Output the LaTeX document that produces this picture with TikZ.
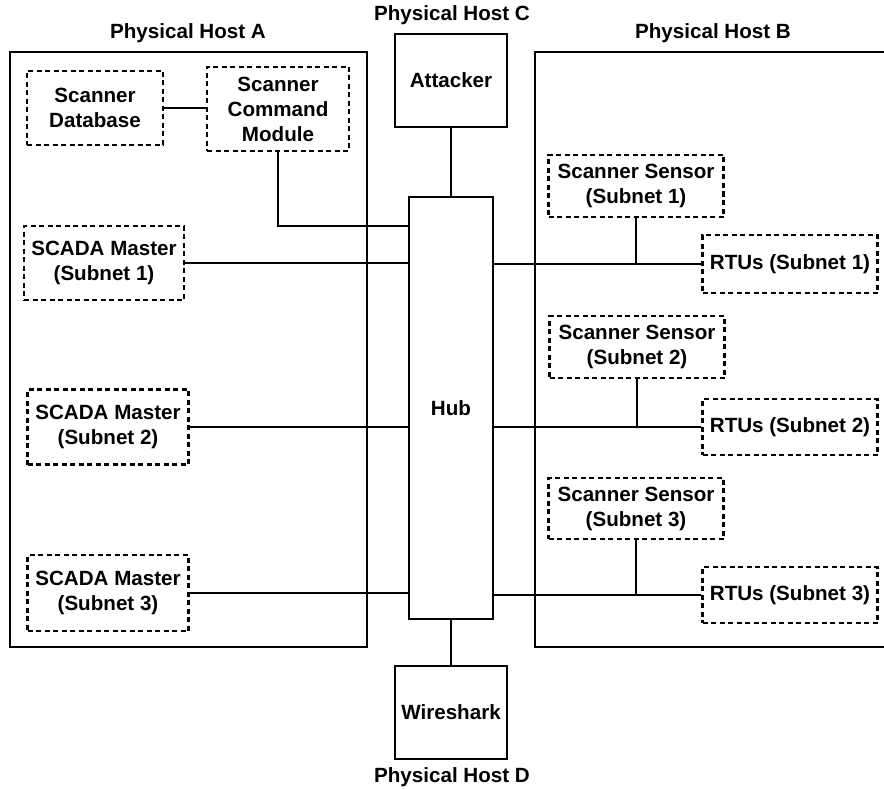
\documentclass[tikz,border=0pt]{standalone}
\usepackage{fontspec}
\setmainfont{Liberation Sans}
\begin{document}
\begin{tikzpicture}[x=1pt,y=-1pt,
  every node/.style={font=\fontsize{20.6}{25}\selectfont\bfseries,inner sep=0pt},
  host/.style={draw,line width=2.8pt},
  solo/.style={draw,line width=2.6pt},
  comp/.style={draw,line width=2.2pt,dash pattern=on 5pt off 3.5pt,align=center},
  link/.style={line width=2.2pt}]
\useasboundingbox (0,0) rectangle (884,789);
\clip (0,0) rectangle (884,789);
% physical hosts
\draw[host] (10,52) rectangle (367,647);
\draw[host] (535,52) rectangle (900,647);
\node (hostA) at (188,33) {Physical Host A};
\node (hostB) at (713,33) {Physical Host B};
\node (hostC) at (452,15) {Physical Host C};
\node (hostD) at (452,777) {Physical Host D};
% host A
\node[comp,minimum width=136,minimum height=74] (db) at (95,108) {Scanner\\Database};
\node[comp,minimum width=142,minimum height=84] (scm) at (278,109) {Scanner\\Command\\Module};
\node[comp,minimum width=160,minimum height=74] (m1) at (104,263) {SCADA Master\\(Subnet 1)};
\node[comp,minimum width=161,minimum height=75] (m2) at (108,427) {SCADA Master\\(Subnet 2)};
\node[comp,minimum width=161,minimum height=76] (m3) at (108,593) {SCADA Master\\(Subnet 3)};
% middle
\node[solo,minimum width=112,minimum height=93] (att) at (451,80.5) {Attacker};
\node[solo,minimum width=84,minimum height=422] (hub) at (451,408) {Hub};
\node[solo,minimum width=112,minimum height=93] (ws) at (451,712.5) {Wireshark};
% host B
\node[comp,minimum width=175,minimum height=62] (s1) at (636,186) {Scanner Sensor\\(Subnet 1)};
\node[comp,minimum width=175,minimum height=58] (r1) at (790,264) {RTUs (Subnet 1)};
\node[comp,minimum width=175,minimum height=62] (s2) at (637,347) {Scanner Sensor\\(Subnet 2)};
\node[comp,minimum width=175,minimum height=56] (r2) at (790,427) {RTUs (Subnet 2)};
\node[comp,minimum width=175,minimum height=61] (s3) at (636,508.5) {Scanner Sensor\\(Subnet 3)};
\node[comp,minimum width=175,minimum height=56] (r3) at (790,595) {RTUs (Subnet 3)};
% links
\draw[link] (db.east) -- (db.east -| scm.west);
\coordinate (bend) at (278,226);
\draw[link] (scm.south) -- (bend) -- (bend -| hub.west);
\draw[link] (att.south) -- (hub.north);
\draw[link] (hub.south) -- (ws.north);
\foreach \i in {1,2,3}
{ \draw[link] (m\i.east) -- (m\i.east -| hub.west);
  \draw[link] (r\i.west -| hub.east) -- (r\i.west);
  \draw[link] (s\i.south) -- (s\i.south |- r\i.west);
}
\end{tikzpicture}
\end{document}
